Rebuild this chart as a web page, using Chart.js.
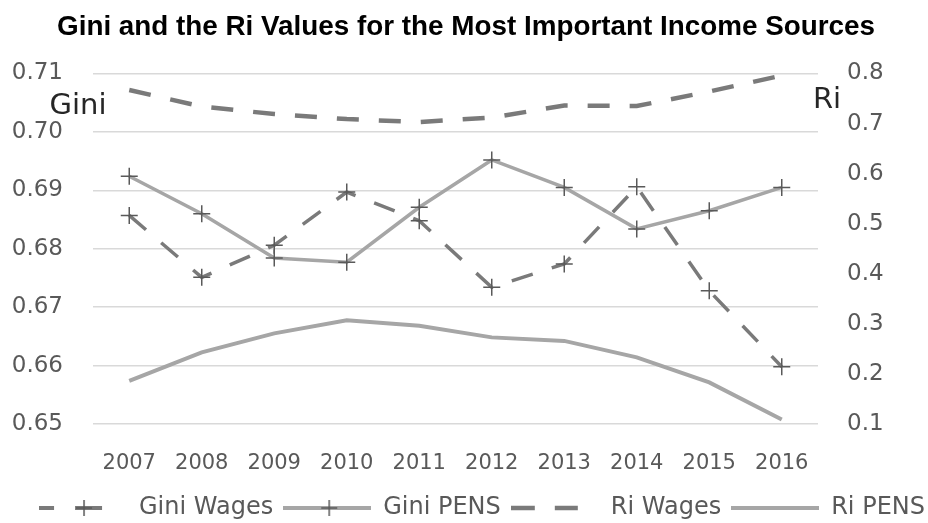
<!DOCTYPE html>
<html>
<head>
<meta charset="utf-8">
<script src="https://cdn.jsdelivr.net/npm/chart.js@4/dist/chart.umd.min.js"></script>
<style>
  html, body { margin: 0; padding: 0; background: #ffffff; }
  #wrap { width: 928px; height: 523px; position: relative; }
</style>
</head>
<body>
<div id="wrap"><canvas id="chart" width="928" height="523"></canvas></div>
<script>
// Years on the category axis
const years = ['2007', '2008', '2009', '2010', '2011', '2012', '2013', '2014', '2015', '2016'];

// Gini coefficients (left axis)
const giniWages = [0.6857, 0.6751, 0.6806, 0.6897, 0.6848, 0.6734, 0.6774, 0.6906, 0.6728, 0.6598];
const giniPens  = [0.6924, 0.6860, 0.6784, 0.6777, 0.6871, 0.6952, 0.6905, 0.6834, 0.6865, 0.6905];

// Ri values (right axis)
const riWages = [0.767, 0.734, 0.719, 0.709, 0.703, 0.712, 0.736, 0.735, 0.764, 0.796];
const riPens  = [0.186, 0.243, 0.281, 0.307, 0.296, 0.273, 0.266, 0.233, 0.183, 0.109];

// Tick values for both value axes
const giniTicks = [0.65, 0.66, 0.67, 0.68, 0.69, 0.70, 0.71];
const riTicks = [0.1, 0.2, 0.3, 0.4, 0.5, 0.6, 0.7, 0.8];

const seriesNames = ['Gini Wages', 'Gini PENS', 'Ri Wages', 'Ri PENS'];
const chartTitle = 'Gini and the Ri Values for the Most Important Income Sources';

const DARK_LINE = '#7a7a7a';
const LIGHT_LINE = '#a6a6a6';
const MARK = '#595959';
const TEXT = '#595959';

// Legend symbols: short line samples, with a plus marker for the Gini series
function legendSymbol(color, width, segments, plus) {
  const c = document.createElement('canvas');
  c.width = 88; c.height = 22;
  const g = c.getContext('2d');
  g.strokeStyle = color;
  g.lineWidth = width;
  g.lineCap = 'butt';
  segments.forEach(([a, b]) => {
    g.beginPath(); g.moveTo(a, 11); g.lineTo(b, 11); g.stroke();
  });
  if (plus !== null) {
    g.strokeStyle = MARK;
    g.lineWidth = 1.5;
    g.beginPath();
    g.moveTo(plus - 8, 11); g.lineTo(plus + 8, 11);
    g.moveTo(plus, 3); g.lineTo(plus, 19);
    g.stroke();
  }
  return c;
}
const symbols = [
  legendSymbol(DARK_LINE, 4, [[0, 15], [36, 63]], 45),
  legendSymbol(LIGHT_LINE, 4, [[0, 88]], 46),
  legendSymbol(DARK_LINE, 4.5, [[0, 24], [44, 67]], null),
  legendSymbol(LIGHT_LINE, 4, [[0, 88]], null)
];

// Nudge the legend row a little to the right of the canvas centre
const legendShift = {
  id: 'legendShift',
  afterLayout(chart) {
    const lg = chart.legend;
    if (lg) { lg.left += 18; lg.right += 18; }
  }
};

// Title and the two axis captions
const captions = {
  id: 'captions',
  afterDraw(chart) {
    const ctx = chart.ctx;
    ctx.save();
    ctx.fillStyle = '#000000';
    ctx.font = 'bold 28px "Liberation Sans", Arial, sans-serif';
    ctx.textAlign = 'center';
    ctx.textBaseline = 'alphabetic';
    const w = ctx.measureText(chartTitle).width;
    ctx.translate(466, 35);
    ctx.scale(818 / w, 1);
    ctx.fillText(chartTitle, 0, 0);
    ctx.restore();

    ctx.save();
    ctx.fillStyle = '#262626';
    ctx.font = '29px "DejaVu Sans", sans-serif';
    ctx.textAlign = 'center';
    ctx.textBaseline = 'alphabetic';
    ctx.fillText('Gini', 78, 114);
    ctx.fillText('Ri', 827, 108);
    ctx.restore();
  }
};

const tickFont = { family: '"DejaVu Sans", sans-serif', size: 23 };

new Chart(document.getElementById('chart'), {
  type: 'line',
  data: {
    labels: years,
    datasets: [
      {
        label: seriesNames[0], data: giniWages, yAxisID: 'y',
        borderColor: DARK_LINE, borderWidth: 3.5, borderDash: [22, 20],
        pointStyle: 'cross', pointRadius: 8.5, pointBorderWidth: 1.5,
        pointBorderColor: MARK, pointBackgroundColor: MARK, order: 1
      },
      {
        label: seriesNames[1], data: giniPens, yAxisID: 'y',
        borderColor: LIGHT_LINE, borderWidth: 3.5,
        pointStyle: 'cross', pointRadius: 8.5, pointBorderWidth: 1.5,
        pointBorderColor: MARK, pointBackgroundColor: MARK, order: 2
      },
      {
        label: seriesNames[2], data: riWages, yAxisID: 'y1',
        borderColor: DARK_LINE, borderWidth: 4.5, borderDash: [22, 20],
        pointRadius: 0, order: 3
      },
      {
        label: seriesNames[3], data: riPens, yAxisID: 'y1',
        borderColor: LIGHT_LINE, borderWidth: 4,
        pointRadius: 0, order: 4
      }
    ]
  },
  options: {
    responsive: false,
    animation: false,
    layout: { padding: { top: 73.5, left: 0, right: 0, bottom: -7 } },
    elements: { line: { tension: 0, fill: false } },
    scales: {
      x: {
        offset: true,
        grid: { display: false },
        border: { display: false },
        ticks: { font: { family: '"DejaVu Sans", sans-serif', size: 21 }, color: TEXT, padding: 19, maxRotation: 0, autoSkip: false },
        afterFit(s) { s.height = 62; }
      },
      y: {
        position: 'left',
        min: 0.65, max: 0.71,
        afterBuildTicks(s) { s.ticks = giniTicks.map(v => ({ value: v })); },
        ticks: { font: tickFont, color: TEXT, padding: 30, callback: v => Number(v).toFixed(2) },
        grid: { color: '#d9d9d9', lineWidth: 1.5, drawTicks: false },
        border: { display: false },
        afterFit(s) { s.width = 93; }
      },
      y1: {
        position: 'right',
        min: 0.1, max: 0.8,
        afterBuildTicks(s) { s.ticks = riTicks.map(v => ({ value: v })); },
        ticks: { font: tickFont, color: TEXT, padding: 29, callback: v => Number(v).toFixed(1) },
        grid: { drawOnChartArea: false, drawTicks: false },
        border: { display: false },
        afterFit(s) { s.width = 110; }
      }
    },
    plugins: {
      title: { display: false },
      tooltip: { enabled: false },
      legend: {
        position: 'bottom',
        labels: {
          usePointStyle: true,
          pointStyleWidth: 88,
          padding: 10,
          color: TEXT,
          font: { family: '"DejaVu Sans", sans-serif', size: 24 },
          generateLabels(chart) {
            const items = Chart.defaults.plugins.legend.labels.generateLabels(chart);
            items.forEach((it, i) => { it.pointStyle = symbols[i]; it.lineWidth = 0; });
            return items;
          }
        }
      }
    }
  },
  plugins: [legendShift, captions]
});
</script>
</body>
</html>
